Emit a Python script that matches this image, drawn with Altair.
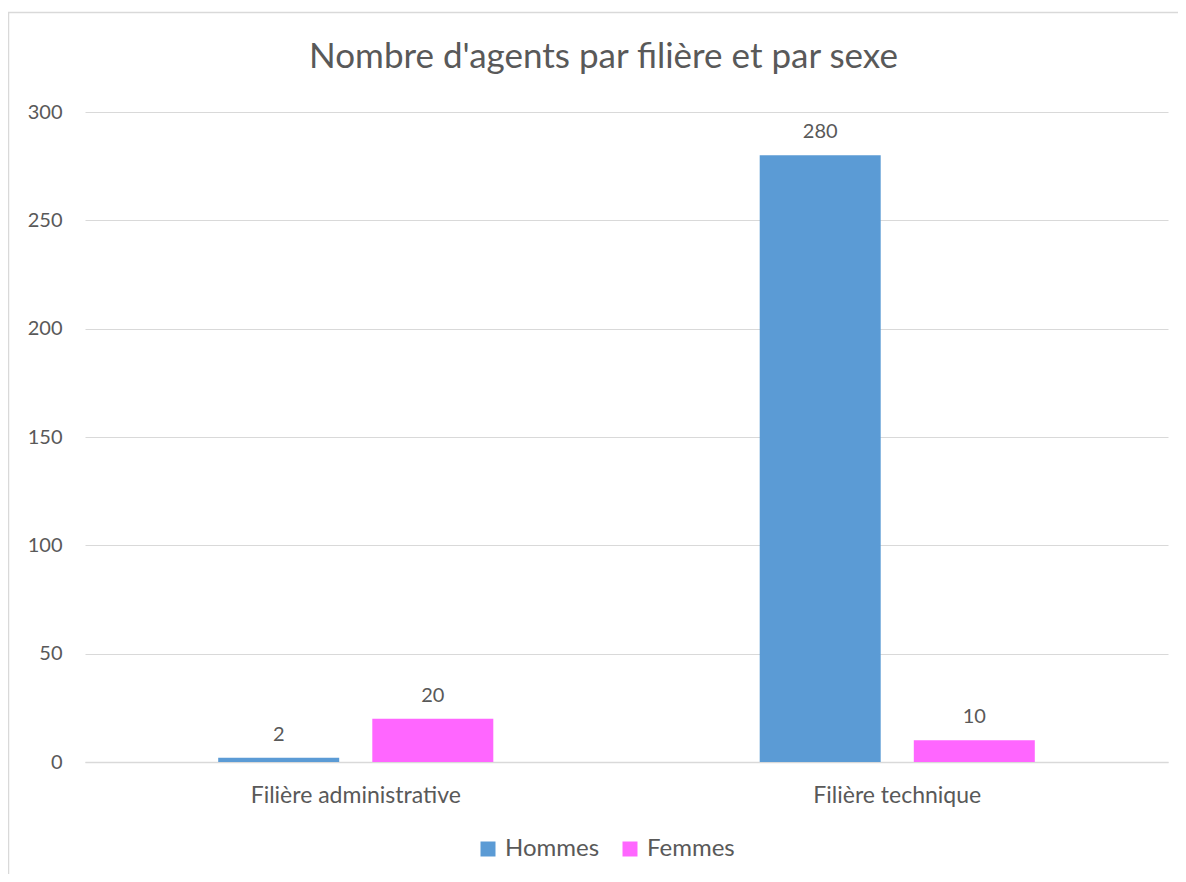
import altair as alt
import pandas as pd

categories = ["Filière administrative", "Filière technique"]
series = ["Hommes", "Femmes"]
hommes = [2, 280]
femmes = [20, 10]
colors = ["#5B9BD5", "#FF66FF"]
y_ticks = [0, 50, 100, 150, 200, 250, 300]
title = "Nombre d'agents par filière et par sexe"

rows = []
for i, c in enumerate(categories):
    rows.append({"cat": c, "sexe": "Hommes", "val": hommes[i]})
    rows.append({"cat": c, "sexe": "Femmes", "val": femmes[i]})
df = pd.DataFrame(rows)

FONT = "Lato"
TXT = "#595959"
W, H = 1083, 650

x = alt.X("cat:N", sort=categories, title=None,
          scale=alt.Scale(paddingInner=0, paddingOuter=0),
          axis=alt.Axis(labelAngle=0, ticks=False, domain=True, domainColor="#D9D9D9",
                        domainWidth=1.5, labelFont=FONT, labelFontSize=23, labelLimit=0,
                        labelColor=TXT, labelPadding=22, grid=False))
xo = alt.XOffset("sexe:N", sort=series,
                 scale=alt.Scale(paddingInner=0.214, paddingOuter=0.864))
y = alt.Y("val:Q", title=None,
          scale=alt.Scale(domain=[0, 300], nice=False),
          axis=alt.Axis(values=y_ticks, ticks=False, domain=False, gridColor="#D9D9D9",
                        gridWidth=1, labelFont=FONT, labelFontSize=20,
                        labelColor=TXT, labelPadding=23))
color = alt.Color("sexe:N", sort=series,
                  scale=alt.Scale(domain=series, range=colors),
                  legend=alt.Legend(title=None, orient="none", direction="horizontal",
                                    legendX=391, legendY=725, symbolType="square",
                                    symbolSize=225, symbolStrokeWidth=0,
                                    labelFont=FONT, labelFontSize=24, labelColor=TXT,
                                    labelOffset=5, columnPadding=18))

bars = alt.Chart(df).mark_bar(size=121).encode(x=x, xOffset=xo, y=y, color=color)
labels = alt.Chart(df).mark_text(font=FONT, fontSize=20, color=TXT, baseline="alphabetic",
                                  dy=-17).encode(x=x, xOffset=xo, y=y, text="val:Q")
border = alt.Chart(pd.DataFrame({"a": [0]})).mark_rect(
    fill=None, stroke="#D9D9D9", strokeWidth=1.5).encode(
    x=alt.value(-76.5), x2=alt.value(W + 200), y=alt.value(-99.5), y2=alt.value(H + 300))
title_mark = alt.Chart(pd.DataFrame({"t": [title]})).mark_text(
    font=FONT, fontSize=35, color=TXT, baseline="middle", align="center").encode(
    x=alt.value(518.5), y=alt.value(-55), text="t:N")

chart = alt.layer(border, bars, labels, title_mark).properties(
    width=W, height=H,
    autosize=alt.AutoSizeParams(type="none"),
    padding={"left": 77, "top": 104, "right": 10, "bottom": 112},
).configure_view(stroke=None)

chart.save("out.html", embed_options={"renderer": "svg", "actions": False})
